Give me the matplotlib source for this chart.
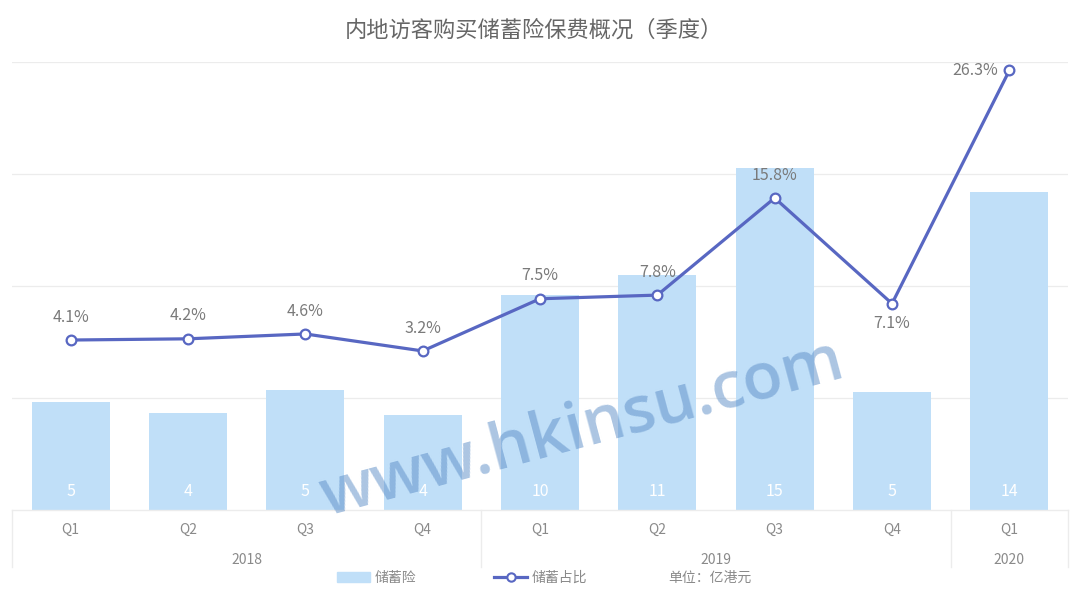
import matplotlib
matplotlib.use("Agg")
import matplotlib.pyplot as plt
import matplotlib.transforms as mtransforms
from matplotlib.patches import Patch
from matplotlib.lines import Line2D

plt.rcParams["font.family"] = ["Noto Sans CJK SC", "DejaVu Sans"]

# data
quarters = ["Q1", "Q2", "Q3", "Q4", "Q1", "Q2", "Q3", "Q4", "Q1"]
years = ["2018", "2019", "2020"]
year_spans = [(0, 3), (4, 7), (8, 8)]
premium = [4.8, 4.35, 5.35, 4.25, 9.6, 10.5, 15.25, 5.25, 14.2]
premium_labels = ["5", "4", "5", "4", "10", "11", "15", "5", "14"]
share = [4.1, 4.2, 4.6, 3.2, 7.5, 7.8, 15.8, 7.1, 26.3]

BAR = "#c0dff8"
LINE = "#5867c2"
GRID = "#ececec"
TXT = "#8a8a8a"

fig = plt.figure(figsize=(10.8, 6.07), dpi=100)
ax = fig.add_axes([12 / 1080, 1 - 510 / 607, 1056 / 1080, 448 / 607])
ax2 = ax.twinx()

x = list(range(len(quarters)))
ax.bar(x, premium, width=0.665, color=BAR, zorder=2)
ax.set_xlim(-0.5, 8.5)
ax.set_ylim(0, 20)
for y in [5, 10, 15, 20]:
    ax.axhline(y, color=GRID, lw=0.9, zorder=0)

for xi, lab in zip(x, premium_labels):
    ax.annotate(lab, (xi, 0), xytext=(0, 13), textcoords="offset points",
                ha="center", va="center", color="white", fontsize=11.5, zorder=4)

# watermark sits over the bars but under their labels
ax.text(582 / 1080, 1 - 430 / 607, "www.hkinsu.com", transform=fig.transFigure,
        ha="center", va="center", rotation=15, fontsize=47, color="#5a8cc6",
        alpha=0.5, weight="semibold", family=["Open Sans", "DejaVu Sans"], zorder=3)

ax2.plot(x, share, color=LINE, lw=2.3, marker="o", ms=7, mfc="white",
         mec=LINE, mew=1.6, zorder=4)
ax2.set_ylim(-9.9, 27)

for xi, v in zip(x, share):
    if xi == 7:
        off, ha = (0, -14), "center"
    elif xi == 8:
        off, ha = (-8, 0), "right"
    else:
        off, ha = (0, 16.5), "center"
    ax2.annotate(f"{v}%", (xi, v), xytext=off, textcoords="offset points",
                 ha=ha, va="center", color="#7a7a7a", fontsize=11.5, zorder=5)

for a in (ax, ax2):
    for s in a.spines.values():
        s.set_visible(False)
    a.set_yticks([])
    a.set_xticks([])

# two-level category axis
trans = mtransforms.blended_transform_factory(ax.transData, ax.transAxes)
ax.plot([-0.5, 8.5], [0, 0], transform=trans, color=GRID, lw=1, clip_on=False)
for bx in [-0.5, 3.5, 7.5, 8.5]:
    ax.plot([bx, bx], [0, -0.127], transform=trans, color=GRID, lw=1, clip_on=False)
for xi, q in zip(x, quarters):
    ax.text(xi, -0.045, q, transform=trans, ha="center", va="center",
            color=TXT, fontsize=10)
for yr, (a0, a1) in zip(years, year_spans):
    ax.text((a0 + a1) / 2, -0.112, yr, transform=trans, ha="center", va="center",
            color=TXT, fontsize=10)

fig.text(534 / 1080, 1 - 30 / 607, "内地访客购买储蓄险保费概况（季度）", ha="center", va="center",
         color="#666666", fontsize=16)

handles = [Patch(color=BAR), Line2D([], [], color=LINE, lw=2.3, marker="o", ms=6,
                                    mfc="white", mec=LINE, mew=1.5)]
fig.legend(handles, ["储蓄险", "储蓄占比"], loc="center", ncol=2,
           bbox_to_anchor=(462 / 1080, 1 - 578 / 607), frameon=False,
           fontsize=10, labelcolor=TXT, handlelength=2.4, handletextpad=0.3,
           columnspacing=5.6)
fig.text(710 / 1080, 1 - 578 / 607, "单位：亿港元", ha="center", va="center",
         color=TXT, fontsize=10)

fig.savefig("out.png", dpi=100)
